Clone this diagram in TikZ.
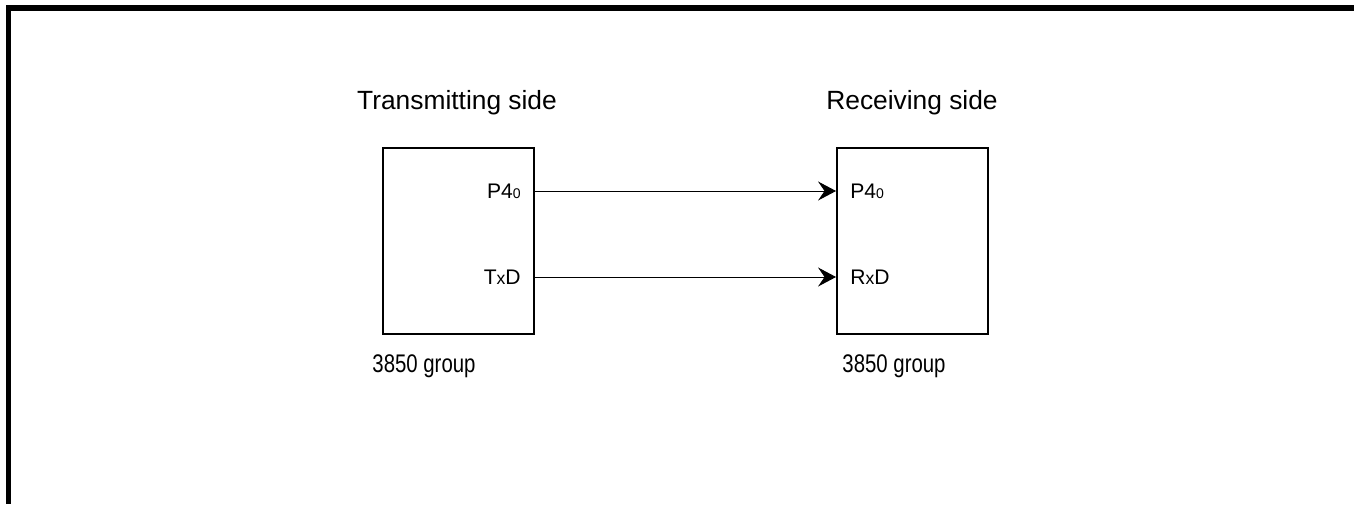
\documentclass[tikz,border=0pt]{standalone}
\usepackage{fontspec}
\setmainfont{Liberation Sans}
\newfontfamily\narrowfont[FakeStretch=0.8]{Liberation Sans}
\usepackage{tikz}
\usetikzlibrary{arrows.meta, positioning, calc}
\tikzset{
  chip/.style={rectangle, draw=black, fill=white, line width=1.1pt,
    minimum width=3.02cm, minimum height=3.72cm, inner sep=0pt},
  side/.style={font=\fontsize{15}{18}\selectfont, inner sep=0pt},
  pinlbl/.style={font=\fontsize{12}{14}\selectfont, inner sep=0pt},
  grp/.style={font=\narrowfont\fontsize{14.5}{17}\selectfont, inner sep=0pt},
  sig/.style={-{Stealth[length=0.36cm, width=0.38cm, inset=0.13cm]}, line width=0.55pt, color=black},
  frame/.style={line width=0.12cm, color=black}
}
\newcommand{\sub}[1]{{\fontsize{8}{9}\selectfont #1}}
\newcommand{\smx}{{\fontsize{10}{11}\selectfont x}}

\begin{document}
\begin{tikzpicture}[x=0.02cm, y=-0.02cm]
  \useasboundingbox (0,0) rectangle (1354,504);
  % Outer frame (top and left only)
  \draw[frame] (1354,8) -- (8.5,8) -- (8.5,504);

  % Headings
  \node[side] (txhead) at (457,103) {Transmitting side};
  \node[side] (rxhead) at (912,103) {Receiving side};

  % The two chips
  \node[chip] (tx) at (458.5,241) {};
  \node[chip] (rx) at (912.5,241) {};

  % Pin names
  \node[pinlbl, anchor=east] (txp) at (521,191) {P4\sub{0}};
  \node[pinlbl, anchor=east] (txd) at (521,277) {T\smx D};
  \node[pinlbl, anchor=west] (rxp) at (850,191) {P4\sub{0}};
  \node[pinlbl, anchor=west] (rxd) at (850,277) {R\smx D};

  % Connections
  \draw[sig] (tx.east |- txp) -- (rx.west |- rxp);
  \draw[sig] (tx.east |- txd) -- (rx.west |- rxd);

  % Group names
  \node[grp] (txgrp) at (424,366) {3850 group};
  \node[grp] (rxgrp) at (894,366) {3850 group};
\end{tikzpicture}
\end{document}
